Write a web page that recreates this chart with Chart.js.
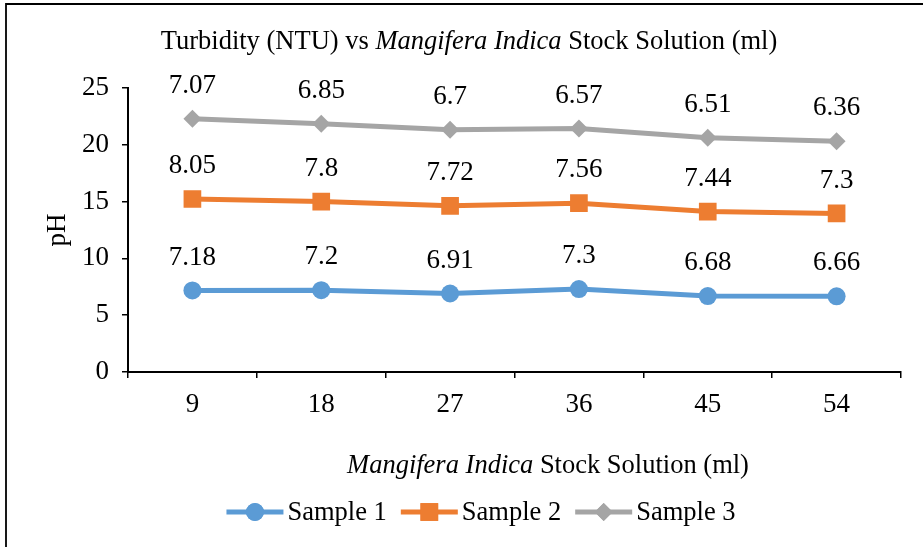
<!DOCTYPE html>
<html>
<head>
<meta charset="utf-8">
<script src="https://cdn.jsdelivr.net/npm/chart.js@4/dist/chart.umd.min.js"></script>
<style>
html,body{margin:0;padding:0;background:#fff;}
#wrap{width:923px;height:547px;position:relative;}
</style>
</head>
<body>
<div id="wrap"><canvas id="c" width="923" height="547"></canvas></div>
<script>
const categories = ["9", "18", "27", "36", "45", "54"];
const sample1 = [7.18, 7.2, 6.91, 7.3, 6.68, 6.66];
const sample2 = [8.05, 7.8, 7.72, 7.56, 7.44, 7.3];
const sample3 = [7.07, 6.85, 6.7, 6.57, 6.51, 6.36];
const seriesNames = ["Sample 1", "Sample 2", "Sample 3"];
const yTicks = [0, 5, 10, 15, 20, 25];

const FONT = "'Liberation Serif', 'Times New Roman', serif";
const colors = ["#5B9BD5", "#ED7D31", "#A5A5A5"];
const styles = ["circle", "rect", "rectRot"];
const radii = [9, 12.5, 9];

const decor = {
  id: "decor",
  beforeDraw(chart) {
    const ctx = chart.ctx;
    ctx.save();
    ctx.fillStyle = "#fff";
    ctx.fillRect(0, 0, chart.width, chart.height);
    ctx.strokeStyle = "#000";
    ctx.lineWidth = 1.8;
    ctx.beginPath();
    ctx.moveTo(6, chart.height);
    ctx.lineTo(6, 4);
    ctx.lineTo(chart.width, 4);
    ctx.stroke();
    ctx.restore();
  },
  afterDatasetsDraw(chart) {
    const ctx = chart.ctx;
    ctx.save();
    ctx.fillStyle = "#000";
    ctx.font = "27px " + FONT;
    ctx.textAlign = "center";
    ctx.textBaseline = "middle";
    chart.data.datasets.forEach((ds, i) => {
      const meta = chart.getDatasetMeta(i);
      meta.data.forEach((pt, j) => {
        ctx.fillText(String(ds.data[j]), pt.x, pt.y - 33);
      });
    });
    ctx.restore();
  },
  afterDraw(chart) {
    const ctx = chart.ctx;
    ctx.save();
    ctx.fillStyle = "#000";
    ctx.textBaseline = "middle";
    function mixed(parts, cx, cy, size) {
      let total = 0;
      parts.forEach(p => { ctx.font = (p.i ? "italic " : "") + size + "px " + FONT; p.w = ctx.measureText(p.t).width; total += p.w; });
      let x = cx - total / 2;
      ctx.textAlign = "left";
      parts.forEach(p => { ctx.font = (p.i ? "italic " : "") + size + "px " + FONT; ctx.fillText(p.t, x, cy); x += p.w; });
    }
    mixed([{t: "Turbidity (NTU) vs "}, {t: "Mangifera Indica", i: true}, {t: " Stock Solution (ml)"}], 469, 42, 26.5);
    mixed([{t: "Mangifera Indica", i: true}, {t: " Stock Solution (ml)"}], 548, 466, 26.5);
    ctx.save();
    ctx.translate(58, 230);
    ctx.rotate(-Math.PI / 2);
    ctx.font = "27px " + FONT;
    ctx.textAlign = "center";
    ctx.fillText("pH", 0, 0);
    ctx.restore();
    ctx.font = "26.5px " + FONT;
    const lineLen = 57, gapT = 4, gapI = 14;
    let widths = seriesNames.map(n => ctx.measureText(n).width);
    let total = widths.reduce((a, b) => a + b, 0) + 3 * (lineLen + gapT) + 2 * gapI;
    let x = 481 - total / 2;
    const ly = 512;
    seriesNames.forEach((n, i) => {
      ctx.strokeStyle = colors[i];
      ctx.lineWidth = 5;
      ctx.beginPath();
      ctx.moveTo(x, ly);
      ctx.lineTo(x + lineLen, ly);
      ctx.stroke();
      ctx.fillStyle = colors[i];
      Chart.helpers.drawPoint(ctx, {pointStyle: styles[i], radius: radii[i], rotation: 0, borderWidth: 0}, x + lineLen / 2, ly);
      ctx.fill();
      ctx.fillStyle = "#000";
      ctx.textAlign = "left";
      ctx.fillText(n, x + lineLen + gapT, ly + 1);
      x += lineLen + gapT + widths[i] + gapI;
    });
    ctx.restore();
  }
};

const datasets = [sample1, sample2, sample3].map((d, i) => ({
  label: seriesNames[i],
  data: d,
  borderColor: colors[i],
  backgroundColor: colors[i],
  borderWidth: 5,
  pointStyle: styles[i],
  pointRadius: radii[i],
  pointBorderWidth: 0,
  pointHoverRadius: radii[i],
  fill: false,
  tension: 0
}));

new Chart(document.getElementById("c"), {
  type: "line",
  data: {labels: categories, datasets},
  plugins: [decor],
  options: {
    responsive: false,
    animation: false,
    events: [],
    layout: {padding: {top: 88, right: 22, left: 0, bottom: 0}},
    plugins: {legend: {display: false}, title: {display: false}, tooltip: {enabled: false}},
    scales: {
      x: {
        offset: true,
        grid: {offset: true, drawOnChartArea: false, drawTicks: true, tickLength: 6, color: "#000", lineWidth: 1.5},
        border: {display: true, color: "#000", width: 2},
        ticks: {color: "#000", font: {family: FONT, size: 27}, padding: 11},
        afterFit(s) { s.height = 175; }
      },
      y: {
        stacked: true,
        min: 0, max: 25,
        afterBuildTicks(s) { s.ticks = yTicks.map(v => ({value: v})); },
        grid: {drawOnChartArea: false, drawTicks: true, tickLength: 6, color: "#000", lineWidth: 1.5},
        border: {display: true, color: "#000", width: 2},
        ticks: {color: "#000", font: {family: FONT, size: 27}, padding: 13},
        afterFit(s) { s.width = 128; }
      }
    }
  }
});
</script>
</body>
</html>
